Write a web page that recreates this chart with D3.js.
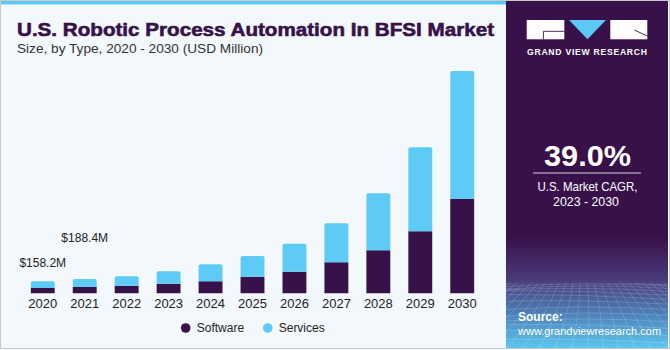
<!DOCTYPE html>
<html>
<head>
<meta charset="utf-8">
<script src="https://cdn.jsdelivr.net/npm/d3@7"></script>
<style>
  html, body { margin: 0; padding: 0; background: #ffffff; }
  svg { display: block; font-family: "Liberation Sans", Arial, sans-serif; }
</style>
</head>
<body>
<svg id="chart" width="670" height="350"></svg>
<script>
'use strict';

// data (USD Million)
const years = ['2020', '2021', '2022', '2023', '2024', '2025', '2026', '2027', '2028', '2029', '2030'];
const software = [70, 83, 100, 127, 158, 219, 285, 409, 568, 818, 1249];
const services = [88.2, 105.4, 124, 163, 225, 273, 370, 515, 752, 1109, 1685];
const callouts = [{ year: '2020', label: '$158.2M', lift: 14 }, { year: '2021', label: '$188.4M', lift: 37 }];
const seriesNames = ['Software', 'Services'];
const seriesColors = ['#371149', '#5ecbf7'];

const svg = d3.select('#chart');
const W = 670, H = 350;
const panelX = 506;

// left background
svg.append('rect').attr('x', 0).attr('y', 0).attr('width', panelX).attr('height', H).attr('fill', '#f3f8fc');
svg.append('rect').attr('x', 0).attr('y', 0).attr('width', panelX).attr('height', 4.5).attr('fill', '#5bc8f5');
svg.append('rect').attr('x', 0.5).attr('y', 0.5).attr('width', W - 1).attr('height', H - 2)
  .attr('fill', 'none').attr('stroke', '#c9c9c9');

// titles
svg.append('text').attr('x', 17).attr('y', 36)
  .attr('font-size', 19).attr('font-weight', 'bold').attr('fill', '#371149')
  .attr('stroke', '#371149').attr('stroke-width', 0.6)
  .attr('textLength', 477).attr('lengthAdjust', 'spacingAndGlyphs')
  .text('U.S. Robotic Process Automation In BFSI Market');
svg.append('text').attr('x', 17).attr('y', 53)
  .attr('font-size', 13).attr('fill', '#333333')
  .attr('textLength', 246).attr('lengthAdjust', 'spacingAndGlyphs')
  .text('Size, by Type, 2020 - 2030 (USD Million)');

// chart
const rows = years.map((y, i) => ({ year: y, Software: software[i], Services: services[i] }));
const stack = d3.stack().keys(seriesNames)(rows);

const x = d3.scaleBand().domain(years).range([21.8, 483.2]).paddingInner(0.43).paddingOuter(0.215);
const yScale = d3.scaleLinear().domain([0, 3000]).range([293.3, 65.9]);

const chart = svg.append('g');
chart.selectAll('g.series')
  .data(stack)
  .enter().append('g')
  .attr('class', 'series')
  .attr('fill', (d, i) => seriesColors[i])
  .selectAll('path')
  .data(d => d.map(p => ({ p: p, top: d.key === 'Services' })))
  .enter().append('path')
  .attr('d', d => {
    const x0 = x(d.p.data.year), w = x.bandwidth();
    const y0 = yScale(d.p[0]), y1 = yScale(d.p[1]);
    const r = d.top ? Math.min(2, (y0 - y1) / 2) : 0;
    return `M${x0},${y0}V${y1 + r}Q${x0},${y1} ${x0 + r},${y1}H${x0 + w - r}Q${x0 + w},${y1} ${x0 + w},${y1 + r}V${y0}Z`;
  });

// x axis
const xAxis = svg.append('g')
  .attr('transform', `translate(0, ${yScale(0)})`)
  .call(d3.axisBottom(x).tickSize(0).tickPadding(5));
xAxis.select('.domain').remove();
xAxis.selectAll('text').attr('font-size', 13).attr('fill', '#222222')
  .attr('font-family', '"Liberation Sans", Arial, sans-serif');

// callouts
svg.selectAll('text.callout')
  .data(callouts)
  .enter().append('text')
  .attr('class', 'callout')
  .attr('x', d => x(d.year) + x.bandwidth() / 2)
  .attr('y', d => {
    const i = years.indexOf(d.year);
    return yScale(software[i] + services[i]) - d.lift;
  })
  .attr('text-anchor', 'middle').attr('font-size', 12).attr('fill', '#222222')
  .text(d => d.label);

// legend
const legendX = [185.7, 267.7];
const legend = svg.selectAll('g.legend')
  .data(seriesNames)
  .enter().append('g')
  .attr('class', 'legend')
  .attr('transform', (d, i) => `translate(${legendX[i]}, 328)`);
legend.append('circle').attr('r', 4.8).attr('fill', (d, i) => seriesColors[i]);
legend.append('text').attr('x', 11).attr('y', 4.3).attr('font-size', 12).attr('fill', '#222222').text(d => d);

// right panel
const defs = svg.append('defs');
const grad = defs.append('linearGradient').attr('id', 'pgrad').attr('x1', 0).attr('y1', 0).attr('x2', 0).attr('y2', 1);
grad.append('stop').attr('offset', '0').attr('stop-color', '#38114a');
grad.append('stop').attr('offset', '0.68').attr('stop-color', '#38114a');
grad.append('stop').attr('offset', '0.8').attr('stop-color', '#4a3a78');
grad.append('stop').attr('offset', '0.9').attr('stop-color', '#4d7fb8');
grad.append('stop').attr('offset', '1').attr('stop-color', '#5cc6f0');
defs.append('clipPath').attr('id', 'pclip')
  .append('rect').attr('x', panelX).attr('y', 283).attr('width', 162).attr('height', 65);

const panel = svg.append('g');
panel.append('rect').attr('x', panelX).attr('y', 1).attr('width', 162).attr('height', 347).attr('fill', 'url(#pgrad)');

// faint perspective grid
const grid = panel.append('g').attr('clip-path', 'url(#pclip)')
  .attr('stroke', '#ffffff').attr('stroke-opacity', 0.22).attr('stroke-width', 0.7).attr('fill', 'none');
d3.range(0, 14).forEach(k => {
  const yy = 283 + Math.pow(k / 13, 1.6) * 66;
  grid.append('path').attr('d', `M${panelX},${yy + 3 * Math.sin(k)}Q${panelX + 80},${yy - 3} ${panelX + 162},${yy + 2}`);
});
d3.range(-12, 13).forEach(k => {
  const topX = 587 + k * 7, botX = 587 + k * 16;
  grid.append('path').attr('d', `M${topX},283Q${(topX + botX) / 2 + 4},316 ${botX},349`);
});

// logo
const logo = panel.append('g');
logo.append('rect').attr('x', 526.7).attr('y', 20).attr('width', 37.6).attr('height', 19.3).attr('fill', '#ffffff');
logo.append('path').attr('d', 'M569,20H606L587.5,39.3Z').attr('fill', '#5bc8f5');
logo.append('rect').attr('x', 610.3).attr('y', 20).attr('width', 37).attr('height', 19.3).attr('fill', '#ffffff');
logo.append('path').attr('d', 'M564.3,31.3H543.4V39.3').attr('stroke', '#38114a').attr('stroke-width', 0.9).attr('fill', 'none');
logo.append('path').attr('d', 'M634.3,30L647.3,36').attr('stroke', '#38114a').attr('stroke-width', 0.9).attr('fill', 'none');
logo.append('text').attr('x', 587).attr('y', 54.5).attr('text-anchor', 'middle')
  .attr('font-size', 8.6).attr('font-weight', 'bold').attr('fill', '#ffffff')
  .attr('textLength', 120).attr('lengthAdjust', 'spacing')
  .text('GRAND VIEW RESEARCH');

// CAGR block
panel.append('text').attr('x', 587.5).attr('y', 165.8).attr('text-anchor', 'middle')
  .attr('font-size', 29).attr('font-weight', 'bold').attr('fill', '#ffffff')
  .attr('textLength', 87).attr('lengthAdjust', 'spacingAndGlyphs').text('39.0%');
panel.append('line').attr('x1', 533).attr('x2', 641).attr('y1', 173).attr('y2', 173)
  .attr('stroke', '#ffffff').attr('stroke-opacity', 0.8).attr('stroke-width', 1);
panel.append('text').attr('x', 587.5).attr('y', 191).attr('text-anchor', 'middle')
  .attr('font-size', 13).attr('fill', '#ffffff')
  .attr('textLength', 100).attr('lengthAdjust', 'spacingAndGlyphs').text('U.S. Market CAGR,');
panel.append('text').attr('x', 586).attr('y', 205.5).attr('text-anchor', 'middle')
  .attr('font-size', 13).attr('fill', '#ffffff')
  .attr('textLength', 66).attr('lengthAdjust', 'spacingAndGlyphs').text('2023 - 2030');

// source
panel.append('text').attr('x', 518).attr('y', 320.5)
  .attr('font-size', 12).attr('font-weight', 'bold').attr('fill', '#ffffff').text('Source:');
panel.append('text').attr('x', 518).attr('y', 334.5)
  .attr('font-size', 11).attr('fill', '#ffffff').text('www.grandviewresearch.com');
</script>
</body>
</html>
